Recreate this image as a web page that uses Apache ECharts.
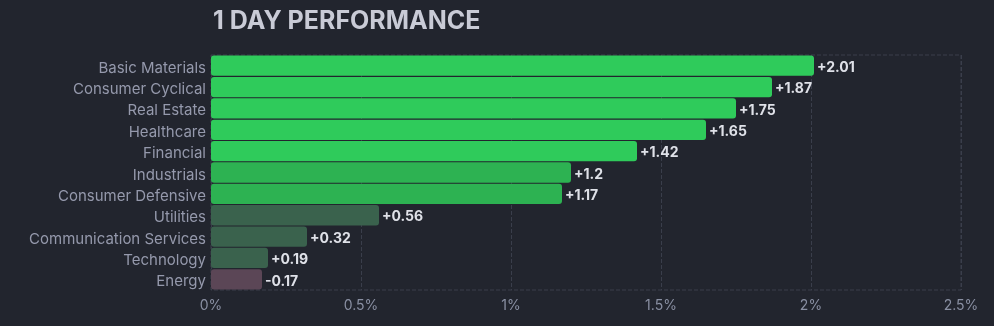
<!DOCTYPE html>
<html><head><meta charset="utf-8">
<script src="https://cdn.jsdelivr.net/npm/echarts@6/dist/echarts.min.js"></script>
<style>html,body{margin:0;padding:0;background:#22252e;}#c{width:994px;height:326px;}</style>
</head><body><div id="c"></div>
<script>
const categories = ["Basic Materials","Consumer Cyclical","Real Estate","Healthcare","Financial","Industrials","Consumer Defensive","Utilities","Communication Services","Technology","Energy"];
const values = [2.01,1.87,1.75,1.65,1.42,1.2,1.17,0.56,0.32,0.19,-0.17];
const xTicks = [0,0.5,1,1.5,2,2.5];

function colorFor(v){
  if (v < 0) return '#5b4656';
  if (v >= 1.4) return '#2fcb5b';
  if (v >= 1.0) return '#2db252';
  return '#3a624d';
}
const chart = echarts.init(document.getElementById('c'), null, {renderer:'canvas'});
chart.setOption({
  backgroundColor:'#22252e',
  animation:false,
  title:{text:'1 DAY PERFORMANCE', left:208, top:4,
    textStyle:{color:'#c9cbd6', fontSize:25, fontWeight:'bold', fontFamily:'Inter'}},
  grid:{left:211, right:33, top:55, bottom:36, show:true, borderColor:'#3a3e4b', borderWidth:1, borderType:'dashed', containLabel:false},
  xAxis:{type:'value', min:xTicks[0], max:xTicks[xTicks.length-1], interval:0.5,
    axisLine:{show:false}, axisTick:{show:false},
    splitLine:{show:true, lineStyle:{color:'#3a3e4b', type:'dashed'}},
    axisLabel:{color:'#8a90a3', fontSize:14, fontFamily:'Inter', margin:9,
      formatter:v=>v+'%'}},
  yAxis:{type:'category', inverse:true, data:categories,
    axisLine:{show:false}, axisTick:{show:false}, splitLine:{show:false},
    axisLabel:{margin:5, formatter:v=>'{a|'+v+'}',
      rich:{a:{color:'#9599ac', fontSize:15, fontFamily:'Inter', padding:[5,0,0,0]}}}},
  series:[{type:'bar', barCategoryGap:'5%',
    data: values.map(v=>({value:Math.abs(v), itemStyle:{color:colorFor(v), borderRadius:3}})),
    label:{show:true, position:'right', distance:3, offset:[0,2], color:'#dfe1e8', fontSize:14, fontWeight:'bold', fontFamily:'Inter',
      formatter:p=>{const v=values[p.dataIndex]; return (v>=0?'+':'')+v;}}
  }]
});
</script></body></html>
